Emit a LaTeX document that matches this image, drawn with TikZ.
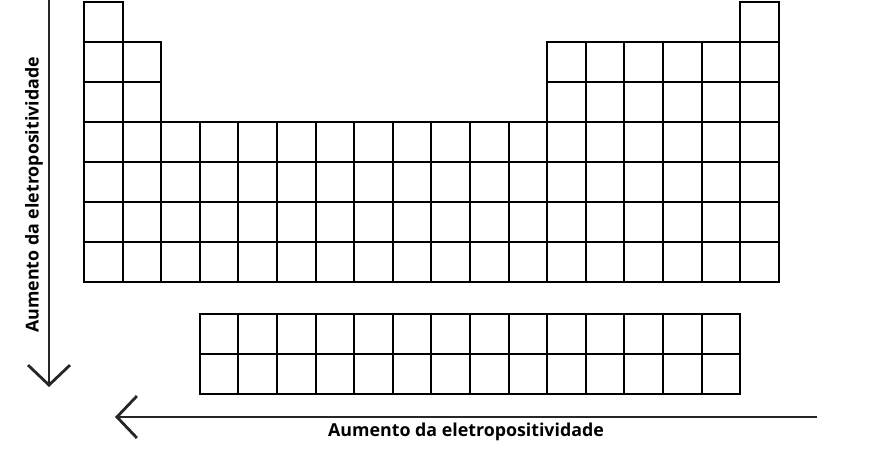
\documentclass[tikz,border=0pt]{standalone}
\usepackage{fontspec}
\setmainfont{Open Sans}
\usetikzlibrary{arrows.meta}
\begin{document}
\begin{tikzpicture}[x=1pt,y=-1pt,
  cell/.style={line width=2pt,black},
  axisarrow/.style={line width=2.8pt,color=black!85,
    -{Straight Barb[length=20pt,width=42pt,line width=2.8pt]}},
  axislabel/.style={font=\bfseries\fontsize{17.8}{20}\selectfont,inner sep=0pt}]
\useasboundingbox (0,0) rectangle (870,454);
% main block
\foreach \c in {0,17}
  \draw[cell] (84+\c*38.6,2) rectangle ++(38.6,40);
\foreach \r in {1,2}
  \foreach \c in {0,1,12,13,14,15,16,17}
    \draw[cell] (84+\c*38.6,2+\r*40) rectangle ++(38.6,40);
\foreach \r in {3,...,6}
  \foreach \c in {0,...,17}
    \draw[cell] (84+\c*38.6,2+\r*40) rectangle ++(38.6,40);
% lanthanides and actinides
\foreach \r in {0,1}
  \foreach \c in {3,...,16}
    \draw[cell] (84+\c*38.6,314+\r*40) rectangle ++(38.6,40);
% arrows
\coordinate (vstart) at (49,0);
\coordinate (vend) at (49,387);
\coordinate (hstart) at (817,417);
\coordinate (hend) at (115,417);
\draw[axisarrow] (vstart) -- (vend);
\draw[axisarrow] (hstart) -- (hend);
\node[axislabel,rotate=90] (vlabel) at (34,195) {Aumento da eletropositividade};
\node[axislabel] (hlabel) at (466,432) {Aumento da eletropositividade};
\end{tikzpicture}
\end{document}
